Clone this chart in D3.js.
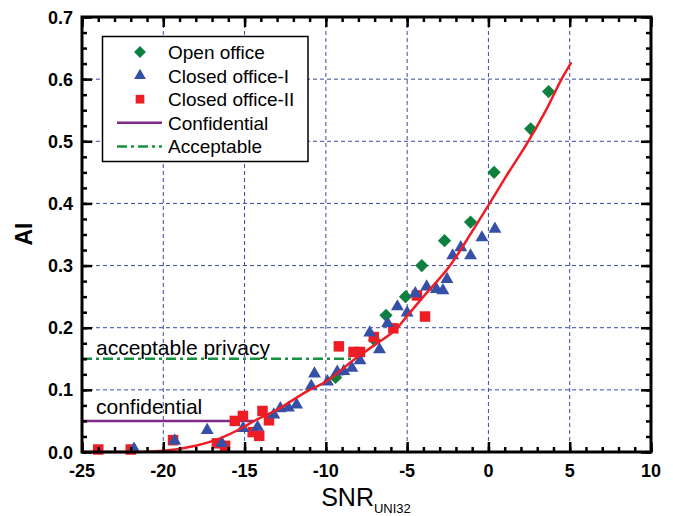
<!DOCTYPE html>
<html><head><meta charset="utf-8">
<script src="https://cdn.jsdelivr.net/npm/d3@7"></script>
<style>body{margin:0;background:#fff}svg{display:block}</style>
</head><body><svg id="c" width="673" height="516"></svg>
<script>
// ---- data ----
const openX = [-9.4, -7.0, -6.3, -5.1, -4.1, -2.7, -1.1, 0.35, 2.6, 3.7];
const openY = [0.12, 0.18, 0.22, 0.25, 0.30, 0.34, 0.37, 0.45, 0.52, 0.58];

const closed1X = [-21.8, -19.3, -17.3, -16.4, -15.1, -14.2, -13.2, -12.8, -12.3, -11.8, -10.9, -10.7, -9.9, -9.3, -8.9, -8.4, -7.9, -7.3, -6.7, -6.2, -5.6, -5.0, -4.5, -3.8, -3.2, -2.8, -2.55, -2.2, -1.7, -1.1, -0.4, 0.4];
const closed1Y = [0.005, 0.018, 0.035, 0.014, 0.038, 0.040, 0.060, 0.070, 0.071, 0.076, 0.106, 0.126, 0.113, 0.129, 0.130, 0.135, 0.147, 0.192, 0.165, 0.207, 0.234, 0.224, 0.255, 0.266, 0.262, 0.260, 0.278, 0.316, 0.329, 0.316, 0.345, 0.359];

const closed2X = [-24.0, -22.0, -19.4, -16.7, -16.2, -15.6, -15.1, -14.5, -14.1, -13.9, -13.5, -9.2, -8.3, -7.9, -7.05, -5.85, -4.4, -3.9];
const closed2Y = [0.004, 0.004, 0.019, 0.014, 0.010, 0.050, 0.058, 0.032, 0.026, 0.066, 0.051, 0.170, 0.161, 0.161, 0.185, 0.199, 0.252, 0.218];

const fitX = [-25, -22, -20, -18, -16.8, -15, -14.4, -13, -11, -10, -8.2, -7, -5.6, -5, -4, -2.36, -1, 0, 1, 2.45, 3.5, 4.5, 5.1];
const fitY = [0.0, 0.0, 0.002, 0.010, 0.019, 0.041, 0.05, 0.068, 0.10, 0.113, 0.15, 0.172, 0.20, 0.219, 0.25, 0.30, 0.355, 0.397, 0.44, 0.50, 0.548, 0.60, 0.627];

const confidentialLevel = 0.05, confidentialEnd = -14.4;
const acceptableLevel = 0.15, acceptableEnd = -8.2;

const xTicks = [-25, -20, -15, -10, -5, 0, 5, 10];
const yTicks = [0.0, 0.1, 0.2, 0.3, 0.4, 0.5, 0.6, 0.7];

const legendItems = ["Open office", "Closed office-I", "Closed office-II", "Confidential", "Acceptable"];

// ---- colours ----
const GREEN = "#0d8040", BLUE = "#3550a6", RED = "#ee1d25", PURPLE = "#7d2b86", GGREEN = "#17903f", GRID = "#3a4aa0";
const FONT = "Liberation Sans, Arial, sans-serif";

const svg = d3.select("#c");
const L = 82, R = 651, T = 17, B = 452;
const x = d3.scaleLinear().domain([-25, 10]).range([L, R]);
const y = d3.scaleLinear().domain([0, 0.7]).range([B, T]);

// grid
const g = svg.append("g");
g.selectAll(".gx").data(xTicks.slice(1, -1)).join("line")
  .attr("x1", d => x(d)).attr("x2", d => x(d)).attr("y1", T).attr("y2", B)
  .attr("stroke", GRID).attr("stroke-width", 1).attr("stroke-dasharray", "4,3");
g.selectAll(".gy").data(yTicks.slice(1, -1)).join("line")
  .attr("y1", d => y(d)).attr("y2", d => y(d)).attr("x1", L).attr("x2", R)
  .attr("stroke", GRID).attr("stroke-width", 1).attr("stroke-dasharray", "4,3");

// reference lines
svg.append("line").attr("x1", x(-25)).attr("x2", x(confidentialEnd))
  .attr("y1", y(confidentialLevel)).attr("y2", y(confidentialLevel))
  .attr("stroke", PURPLE).attr("stroke-width", 2.5);
svg.append("line").attr("x1", x(-25)).attr("x2", x(acceptableEnd))
  .attr("y1", y(acceptableLevel)).attr("y2", y(acceptableLevel))
  .attr("stroke", GGREEN).attr("stroke-width", 2.5).attr("stroke-dasharray", "10,4,3,4");

svg.append("text").attr("x", 96).attr("y", 414).text("confidential")
  .attr("font-family", FONT).attr("font-size", 21).attr("fill", "#000");
svg.append("text").attr("x", 96).attr("y", 355).text("acceptable privacy")
  .attr("font-family", FONT).attr("font-size", 21).attr("fill", "#000");

// markers
const diamond = d3.symbol().type(d3.symbolSquare).size(88);
const tri = d3.symbol().type(d3.symbolTriangle).size(72);
const sq = d3.symbol().type(d3.symbolSquare).size(110);

svg.append("g").selectAll("path").data(d3.range(openX.length)).join("path")
  .attr("d", diamond).attr("fill", GREEN)
  .attr("transform", i => `translate(${x(openX[i])},${y(openY[i])}) rotate(45)`);
svg.append("g").selectAll("path").data(d3.range(closed2X.length)).join("path")
  .attr("d", sq).attr("fill", RED)
  .attr("transform", i => `translate(${x(closed2X[i])},${y(closed2Y[i])})`);
svg.append("g").selectAll("path").data(d3.range(closed1X.length)).join("path")
  .attr("d", tri).attr("fill", BLUE)
  .attr("transform", i => `translate(${x(closed1X[i])},${y(closed1Y[i])})`);

// fit curve
const line = d3.line().x(i => x(fitX[i])).y(i => y(fitY[i])).curve(d3.curveMonotoneX);
svg.append("path").attr("d", line(d3.range(fitX.length)))
  .attr("fill", "none").attr("stroke", RED).attr("stroke-width", 2.5);

// axes with inward ticks
function axes() {
  const sw = 2.5;
  const mk = (axis, tr, vals, size) => {
    const a = svg.append("g").attr("transform", tr)
      .call(axis.tickValues(vals).tickSize(size).tickSizeOuter(0).tickFormat(""));
    a.select(".domain").remove();
    a.selectAll("line").attr("stroke", "#000").attr("stroke-width", sw);
  };
  const xMinor = d3.range(-25, 10.001, 1);
  const yMinor = d3.range(0, 0.7001, 0.025);
  mk(d3.axisBottom(x), `translate(0,${B})`, xMinor, -5);
  mk(d3.axisBottom(x), `translate(0,${B})`, xTicks, -10);
  mk(d3.axisTop(x), `translate(0,${T})`, xMinor, -5);
  mk(d3.axisTop(x), `translate(0,${T})`, xTicks, -10);
  mk(d3.axisLeft(y), `translate(${L},0)`, yMinor, -5);
  mk(d3.axisLeft(y), `translate(${L},0)`, yTicks, -10);
  mk(d3.axisRight(y), `translate(${R},0)`, yMinor, -5);
  mk(d3.axisRight(y), `translate(${R},0)`, yTicks, -10);
}
axes();
svg.append("rect").attr("x", L).attr("y", T).attr("width", R - L).attr("height", B - T)
  .attr("fill", "none").attr("stroke", "#000").attr("stroke-width", 3);

// tick labels
const lab = svg.append("g").attr("font-family", FONT)
  .attr("font-weight", "bold").attr("font-size", 18).attr("fill", "#000");
lab.selectAll(".xl").data(xTicks).join("text")
  .attr("x", d => x(d)).attr("y", 477).attr("text-anchor", "middle").text(d => d);
lab.selectAll(".yl").data(yTicks).join("text")
  .attr("x", 73).attr("y", d => y(d) + 6.5).attr("text-anchor", "end").text(d => d3.format(".1f")(d));

// axis titles
svg.append("text").attr("transform", "translate(32,234) rotate(-90)").attr("text-anchor", "middle")
  .attr("font-family", FONT).attr("font-weight", "bold")
  .attr("font-size", 23).text("AI");
const xt = svg.append("text").attr("x", 366).attr("y", 506).attr("text-anchor", "middle")
  .attr("font-family", FONT).attr("font-size", 25);
xt.append("tspan").text("SNR");
xt.append("tspan").attr("font-size", 13).attr("dy", 7).text("UNI32");

// legend
const lg = svg.append("g");
lg.append("rect").attr("x", 102.5).attr("y", 36.5).attr("width", 205.5).attr("height", 125)
  .attr("fill", "#fff").attr("stroke", "#000").attr("stroke-width", 1.5);
const rowY = i => 52 + i * 23.6;
lg.append("path").attr("d", d3.symbol().type(d3.symbolSquare).size(70)).attr("fill", GREEN)
  .attr("transform", `translate(140,${rowY(0)}) rotate(45)`);
lg.append("path").attr("d", d3.symbol().type(d3.symbolTriangle).size(60)).attr("fill", BLUE)
  .attr("transform", `translate(140,${rowY(1)})`);
lg.append("path").attr("d", d3.symbol().type(d3.symbolSquare).size(75)).attr("fill", RED)
  .attr("transform", `translate(140,${rowY(2)})`);
lg.append("line").attr("x1", 117).attr("x2", 162).attr("y1", rowY(3)).attr("y2", rowY(3))
  .attr("stroke", PURPLE).attr("stroke-width", 2.5);
lg.append("line").attr("x1", 117).attr("x2", 162).attr("y1", rowY(4)).attr("y2", rowY(4))
  .attr("stroke", GGREEN).attr("stroke-width", 2.5).attr("stroke-dasharray", "10,4,3,4");
lg.selectAll("text").data(legendItems).join("text")
  .attr("x", 168).attr("y", (d, i) => rowY(i) + 7).text(d => d)
  .attr("font-family", FONT).attr("font-size", 19).attr("fill", "#000");
</script>
</body></html>
